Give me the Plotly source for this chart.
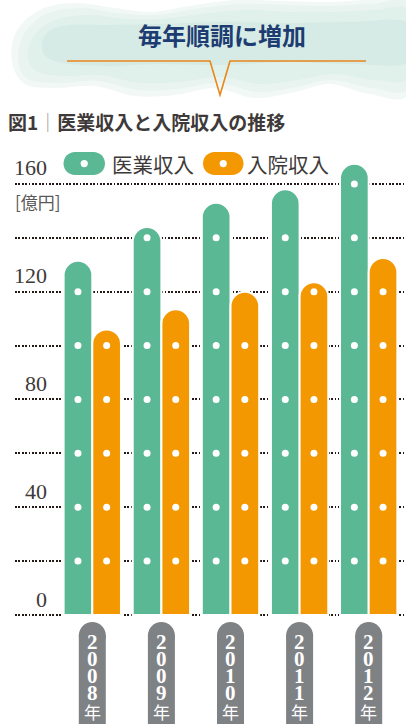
import plotly.graph_objects as go

# ---------------- data ----------------
years = ["2008", "2009", "2010", "2011", "2012"]
medical_revenue = [131.5, 144.0, 153.0, 158.0, 167.5]    # 医業収入 (億円)
inpatient_revenue = [106.0, 113.5, 120.0, 123.5, 132.5]  # 入院収入 (億円)
series_names = ["医業収入", "入院収入"]
y_grid_values = [0, 20, 40, 60, 80, 100, 120, 140, 160]
y_label_values = [0, 40, 80, 120, 160]
y_label_texts = ["0", "40", "80", "120", "160"]
unit_text = "[億円]"
year_suffix = "年"
headline = "毎年順調に増加"
fig_no = "図1"
fig_title = "医業収入と入院収入の推移"

# ---------------- style ----------------
GREEN = "#5bb895"
ORANGE = "#f39800"
PILL_GRAY = "#7f8285"
TEXT = "#3e3a39"
GRID = "#231815"
NAVY = "#1d3d72"
LINE_ORANGE = "#e8861a"
JP = "Noto Sans CJK JP"
SERIF = "Liberation Serif"

W, H = 406, 724
ML, MR, MT, MB = 15, 0, 150, 107
PW, PH = W - ML - MR, H - MT - MB
ZERO_PX, UNIT_PX = 615, 2.694      # pixel row of value 0, pixels per unit
CAT0_PX, CAT_PX = 92.3, 69.1       # pixel column of first category, spacing
BARGAP = 0.17

y_range = [-(H - MB - ZERO_PX) / UNIT_PX, (ZERO_PX - MT) / UNIT_PX]
x_range = [(ML - CAT0_PX) / CAT_PX, (W - MR - CAT0_PX) / CAT_PX]


def px_x(px):
    return (px - ML) / PW


def px_y(py):
    return (H - MB - py) / PH


def off(px, py):
    # pixel offsets relative to anchor paper (0, 1)
    return f"{px - ML:.2f},{MT - py:.2f}"


def pill_path(x0, y0, x1, y1):
    r = (y1 - y0) / 2
    k = 0.5523 * r
    cy = (y0 + y1) / 2
    return (f"M {off(x0 + r, y0)} L {off(x1 - r, y0)} "
            f"C {off(x1 - r + k, y0)} {off(x1, cy - k)} {off(x1, cy)} "
            f"C {off(x1, cy + k)} {off(x1 - r + k, y1)} {off(x1 - r, y1)} "
            f"L {off(x0 + r, y1)} "
            f"C {off(x0 + r - k, y1)} {off(x0, cy + k)} {off(x0, cy)} "
            f"C {off(x0, cy - k)} {off(x0 + r - k, y0)} {off(x0 + r, y0)} Z")


def smooth_closed(pts):
    # closed Catmull-Rom spline through pixel points -> cubic bezier path
    n = len(pts)
    s = "M " + off(*pts[0])
    for i in range(n):
        p0, p1, p2, p3 = pts[i - 1], pts[i], pts[(i + 1) % n], pts[(i + 2) % n]
        c1 = (p1[0] + (p2[0] - p0[0]) / 6, p1[1] + (p2[1] - p0[1]) / 6)
        c2 = (p2[0] - (p3[0] - p1[0]) / 6, p2[1] - (p3[1] - p1[1]) / 6)
        s += f" C {off(*c1)} {off(*c2)} {off(*p2)}"
    return s + " Z"


def pix_shape(**kw):
    d = dict(xref="paper", yref="paper", xsizemode="pixel", ysizemode="pixel",
             xanchor=0, yanchor=1, line=dict(width=0))
    d.update(kw)
    return d


x_idx = list(range(len(years)))
half_slot = (1 - BARGAP) / 4

fig = go.Figure()
for name, vals, col in [(series_names[0], medical_revenue, GREEN),
                        (series_names[1], inpatient_revenue, ORANGE)]:
    fig.add_trace(go.Bar(
        x=x_idx, y=vals, name=name,
        marker=dict(color=col, cornerradius="50%", line=dict(color="white", width=2)),
        hoverinfo="skip", showlegend=False))

# white dots on the bars at each grid value
dx, dy = [], []
for sign, vals in [(-1, medical_revenue), (1, inpatient_revenue)]:
    for i, v in zip(x_idx, vals):
        for g in y_grid_values[1:]:
            if g < v - 2:
                dx.append(i + sign * half_slot)
                dy.append(g)
fig.add_trace(go.Scatter(x=dx, y=dy, mode="markers",
                         marker=dict(color="white", size=7, line=dict(width=0)),
                         hoverinfo="skip", showlegend=False))

shapes = []
annotations = []

# header brush cloud (layered, soft edges)
cloud_layers = [
    ("#f1f8f6", [(12, 62), (16, 32), (40, 10), (75, 3), (115, 8), (150, 12), (190, 6), (235, 0),
                 (280, 1), (330, 2), (370, 0), (410, 2), (410, 92), (370, 94), (330, 84),
                 (295, 92), (255, 98), (215, 88), (175, 95), (135, 96), (95, 86), (55, 88),
                 (25, 84)]),
    ("#e9f4f1", [(18, 60), (24, 34), (46, 14), (80, 8), (118, 13), (155, 15), (195, 9), (240, 4),
                 (285, 5), (330, 6), (372, 4), (410, 6), (410, 86), (372, 88), (332, 80),
                 (296, 87), (258, 92), (218, 83), (178, 89), (138, 90), (98, 81), (58, 83),
                 (28, 79)]),
    ("#e0f0eb", [(28, 56), (34, 36), (55, 20), (90, 15), (125, 19), (160, 19), (200, 14), (245, 10),
                 (290, 12), (335, 12), (375, 10), (410, 12), (410, 76), (375, 80), (335, 74),
                 (298, 80), (260, 84), (220, 77), (180, 82), (140, 83), (100, 75), (62, 76),
                 (36, 71)]),
    ("#d6ebe5", [(42, 46), (48, 32), (70, 25), (110, 25), (160, 24), (220, 22), (290, 23),
                 (350, 22), (410, 23), (410, 62), (350, 64), (290, 62), (220, 65), (160, 64),
                 (110, 66), (70, 64), (48, 58)]),
]
for col, pts in cloud_layers:
    shapes.append(pix_shape(type="path", path=smooth_closed(pts), fillcolor=col, layer="below"))

# orange pointer line
pointer = ("M " + off(67, 61) + " L " + off(210, 61) + " L " + off(220, 95) +
           " L " + off(230, 61) + " L " + off(366, 61))
shapes.append(pix_shape(type="path", path=pointer, line=dict(color=LINE_ORANGE, width=1.6)))

annotations.append(dict(x=px_x(222), y=px_y(35), xref="paper", yref="paper",
                        xanchor="center", yanchor="middle", showarrow=False,
                        text=f"<b>{headline}</b>", font=dict(family=JP, size=24, color=NAVY)))
annotations.append(dict(x=px_x(6), y=px_y(121.5), xref="paper", yref="paper",
                        xanchor="left", yanchor="middle", showarrow=False,
                        text=f"<b>{fig_no}</b><span style='color:#a0a0a0'>｜</span><b>{fig_title}</b>",
                        font=dict(family=JP, size=19, color=TEXT)))

# legend
for (x0, x1, tx), name, col in [((63.5, 105, 110), series_names[0], GREEN),
                               ((203, 243.5, 245), series_names[1], ORANGE)]:
    shapes.append(pix_shape(type="path", path=pill_path(x0, 152, x1, 175), fillcolor=col))
    cx = (x0 + x1) / 2
    shapes.append(pix_shape(type="circle", x0=cx - 3.6 - ML, x1=cx + 3.6 - ML,
                            y0=MT - 160, y1=MT - 167.2, fillcolor="white"))
    annotations.append(dict(x=px_x(tx), y=px_y(163.5), xref="paper", yref="paper",
                            xanchor="left", yanchor="middle", showarrow=False,
                            text=name, font=dict(family=JP, size=20.5, color=TEXT)))

# y labels
for v, t in zip(y_label_values, y_label_texts):
    annotations.append(dict(x=px_x(49), y=v, xref="paper", yref="y",
                            xanchor="right", yanchor="bottom", yshift=1.5, showarrow=False,
                            text=t, font=dict(family=SERIF, size=22, color=TEXT)))
annotations.append(dict(x=px_x(13), y=y_label_values[-1], xref="paper", yref="y",
                        xanchor="left", yanchor="top", yshift=-3, showarrow=False,
                        text=unit_text, font=dict(family=JP, size=17, color="#595757")))

# year pills (vertical text)
for i, yr in zip(x_idx, years):
    shapes.append(dict(type="circle", xref="x", yref="paper", xsizemode="pixel", ysizemode="pixel",
                       xanchor=i, yanchor=0, x0=-13.5, x1=13.5, y0=-5, y1=-32,
                       fillcolor=PILL_GRAY, line=dict(width=0)))
    shapes.append(dict(type="rect", xref="x", yref="paper", xsizemode="pixel", ysizemode="pixel",
                       xanchor=i, yanchor=0, x0=-13.5, x1=13.5, y0=-18.5, y1=-140,
                       fillcolor=PILL_GRAY, line=dict(width=0)))
    for k, ch in enumerate(yr):
        annotations.append(dict(x=i, y=0, xref="x", yref="paper", xanchor="center",
                                yanchor="middle", yshift=-(24.5 + 17 * k), showarrow=False,
                                text=f"<b>{ch}</b>",
                                font=dict(family=SERIF, size=21, color="white")))
    annotations.append(dict(x=i, y=0, xref="x", yref="paper", xanchor="center",
                            yanchor="middle", yshift=-94.5, showarrow=False, text=year_suffix,
                            font=dict(family=JP, size=17, color="white")))

fig.update_layout(
    width=W, height=H,
    margin=dict(l=ML, r=MR, t=MT, b=MB, pad=0),
    paper_bgcolor="white", plot_bgcolor="white",
    barmode="group", bargap=BARGAP, bargroupgap=0,
    showlegend=False,
    xaxis=dict(range=x_range, showgrid=False, zeroline=False, showticklabels=False,
               showline=False, fixedrange=True),
    yaxis=dict(range=y_range, tickvals=y_grid_values, showticklabels=False, showgrid=True,
               gridcolor=GRID, gridwidth=1.8, griddash="1.8px,1.6px", zeroline=False,
               showline=False, fixedrange=True),
    shapes=shapes, annotations=annotations,
)

fig.write_html("out.html", config={"displayModeBar": False},
               post_script="document.body.style.margin='0';document.body.style.overflow='hidden';")
